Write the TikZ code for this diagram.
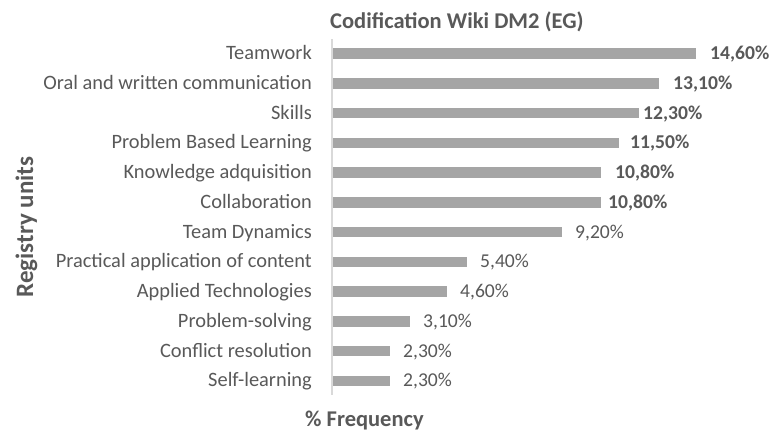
\documentclass[tikz,border=0pt]{standalone}
\usepackage{fontspec}
\setmainfont{Carlito}
\definecolor{txt}{HTML}{595959}
\definecolor{barfill}{HTML}{A5A5A5}
\definecolor{axisgray}{HTML}{D9D9D9}
\begin{document}
\begin{tikzpicture}[x=1pt,y=-1pt,
  clab/.style={text=txt, inner sep=0pt, anchor=base east, font=\fontsize{20.4}{23}\selectfont},
  vlab/.style={text=txt, inner sep=0pt, anchor=base west, font=\fontsize{19.6}{22}\selectfont},
  ttl/.style={text=txt, inner sep=0pt, font=\bfseries\fontsize{22.5}{26}\selectfont},
  barstyle/.style={fill=barfill, draw=none}]
\useasboundingbox (0,0) rectangle (773,432);
\fill[white] (0,0) rectangle (773,432);
\coordinate (axtop) at (332,39);
\coordinate (axbot) at (332,395);
\draw[axisgray, line width=1.3pt] (axtop) -- (axbot);
\foreach \i/\cat/\v/\vt/\f/\lx in {
  0/Teamwork/14.6/{14,60\%}/\bfseries/710,
  1/Oral and written communication/13.1/{13,10\%}/\bfseries/673,
  2/Skills/12.3/{12,30\%}/\bfseries/643,
  3/Problem Based Learning/11.5/{11,50\%}/\bfseries/630,
  4/Knowledge adquisition/10.8/{10,80\%}/\bfseries/615,
  5/Collaboration/10.8/{10,80\%}/\bfseries/608,
  6/Team Dynamics/9.2/{9,20\%}/\mdseries/575,
  7/Practical application of content/5.4/{5,40\%}/\mdseries/480,
  8/Applied Technologies/4.6/{4,60\%}/\mdseries/460,
  9/Problem-solving/3.1/{3,10\%}/\mdseries/423,
  10/Conflict resolution/2.3/{2,30\%}/\mdseries/403,
  11/Self-learning/2.3/{2,30\%}/\mdseries/403}{
  \pgfmathsetmacro\yc{53.5+\i*29.75}
  \pgfmathsetmacro\xe{333+\v*24.86}
  \fill[barstyle] (333,\yc-5.25) rectangle (\xe,\yc+5.25);
  \node[clab] (c\i) at (312,\yc+6) {\cat};
  \node[vlab] (v\i) at (\lx,\yc+6) {\f\vt};
}
\node[ttl, anchor=base west] (title) at (330,28) {Codification Wiki DM2 (EG)};
\node[ttl, anchor=base west] (xtitle) at (305,426.5) {\% Frequency};
\node[ttl, anchor=base, rotate=90, font=\bfseries\fontsize{25}{28}\selectfont] (ytitle) at (33,227) {Registry units};
\end{tikzpicture}
\end{document}
